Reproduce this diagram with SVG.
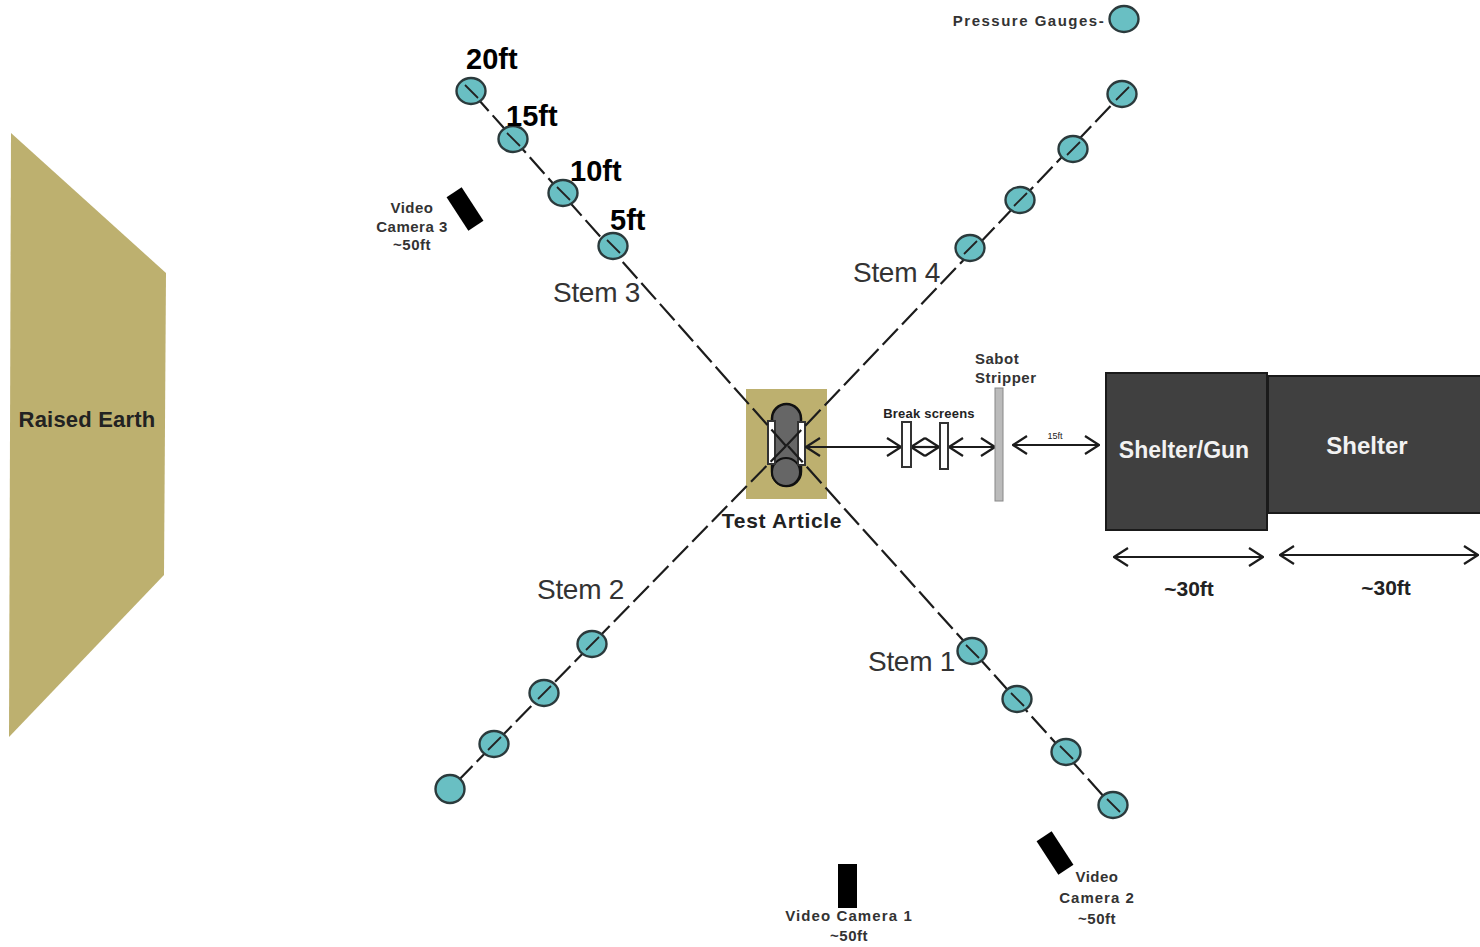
<svg xmlns="http://www.w3.org/2000/svg" width="1480" height="947" viewBox="0 0 1480 947">
<style>
text{font-family:"Liberation Sans",Arial,sans-serif;fill:#222}
.s{font-size:28px;fill:#333;letter-spacing:-.3px}
.d{font-size:29px;font-weight:bold;fill:#000}
.l{font-size:15px;font-weight:bold;fill:#333;text-anchor:middle;letter-spacing:.5px}
.g{fill:#69bfc3;stroke:#2b3a3c;stroke-width:2.4}
.k{stroke:#222;stroke-width:1.8}
.c{fill:none;stroke:#1c1c1c;stroke-width:2.2;stroke-dasharray:22 6}
.a{fill:none;stroke:#1c1c1c;stroke-width:2.2;marker-start:url(#h);marker-end:url(#h)}
.t{fill:#bdb06f}
.w{font-weight:bold;fill:#f2f2f2;text-anchor:middle;font-size:23px}
.sh{fill:#404040;stroke:#1a1a1a;stroke-width:2}
.sc{fill:#fff;stroke:#333;stroke-width:2}
</style>
<defs><marker id="h" viewBox="0 0 16 20" refX="15" refY="10" markerWidth="16" markerHeight="20" orient="auto-start-reverse" markerUnits="userSpaceOnUse"><path d="M1 1L15 10L1 19" fill="none" stroke="#1c1c1c" stroke-width="2.2"/></marker></defs>
<g id="raised-earth"><path class="t" d="M11 133L166 273L164 575L9 737Z"/><text x="87" y="427" text-anchor="middle" font-size="22" font-weight="bold" letter-spacing=".2">Raised Earth</text></g>
<g id="test-article"><rect class="t" x="746" y="389" width="81" height="110"/>
<rect x="772" y="404" width="29" height="82" rx="14.5" fill="#666" stroke="#111" stroke-width="2.5"/><circle cx="786" cy="472" r="14" fill="#666" stroke="#111" stroke-width="2"/>
<rect class="sc" x="768" y="421" width="7" height="43"/><rect class="sc" x="798" y="422" width="7" height="43"/>
<text x="782" y="528" text-anchor="middle" font-size="21" font-weight="bold" letter-spacing=".7">Test Article</text></g>
<g id="connectors">
<path class="c" d="M788 446L1125 820"/><path class="c" d="M786 446L450 789"/><path class="c" d="M786 446L471 91"/><path class="c" d="M786 446L1122 94"/>
<path class="a" d="M806 447L901 447"/><path class="a" d="M911 447L939 447"/><path class="a" d="M949 447L995 447"/><path class="a" d="M1013 445L1099 445"/>
<path class="a" d="M1114 557L1263 557"/><path class="a" d="M1280 555L1478 555"/>
</g>
<g id="stem-3-gauges"><ellipse class="g" cx="471" cy="91" rx="14.5" ry="13"/><path class="k" d="M465 85L478 98"/><ellipse class="g" cx="513" cy="139" rx="14.5" ry="13"/><path class="k" d="M507 133L520 146"/><ellipse class="g" cx="563" cy="193" rx="14.5" ry="13"/><path class="k" d="M557 187L570 200"/><ellipse class="g" cx="613" cy="246" rx="14.5" ry="13"/><path class="k" d="M607 240L620 253"/></g>
<g id="stem-4-gauges"><ellipse class="g" cx="970" cy="248" rx="14.5" ry="13"/><path class="k" d="M964 254L977 241"/><ellipse class="g" cx="1020" cy="200" rx="14.5" ry="13"/><path class="k" d="M1014 206L1027 193"/><ellipse class="g" cx="1073" cy="149" rx="14.5" ry="13"/><path class="k" d="M1067 155L1080 142"/><ellipse class="g" cx="1122" cy="94" rx="14.5" ry="13"/><path class="k" d="M1116 100L1129 87"/></g>
<g id="stem-2-gauges"><ellipse class="g" cx="592" cy="644" rx="14.5" ry="13"/><path class="k" d="M586 650L599 637"/><ellipse class="g" cx="544" cy="693" rx="14.5" ry="13"/><path class="k" d="M538 699L551 686"/><ellipse class="g" cx="494" cy="744" rx="14.5" ry="13"/><path class="k" d="M488 750L501 737"/><ellipse class="g" cx="450" cy="789" rx="14.5" ry="14"/></g>
<g id="stem-1-gauges"><ellipse class="g" cx="972" cy="651" rx="14.5" ry="13"/><path class="k" d="M966 645L979 658"/><ellipse class="g" cx="1017" cy="699" rx="14.5" ry="13"/><path class="k" d="M1011 693L1024 706"/><ellipse class="g" cx="1066" cy="752" rx="14.5" ry="13"/><path class="k" d="M1060 746L1073 759"/><ellipse class="g" cx="1113" cy="805" rx="14.5" ry="13"/><path class="k" d="M1107 799L1120 812"/></g>
<g id="legend-gauge"><text class="l" x="1029" y="26" style="letter-spacing:1.5px">Pressure Gauges-</text><ellipse class="g" cx="1124" cy="19" rx="14.5" ry="13"/></g>
<g id="distances"><text class="d" x="466" y="69">20ft</text><text class="d" x="506" y="126">15ft</text><text class="d" x="570" y="181">10ft</text><text class="d" x="610" y="230">5ft</text></g>
<g id="stems"><text class="s" x="553" y="302">Stem 3</text><text class="s" x="853" y="282">Stem 4</text><text class="s" x="537" y="599">Stem 2</text><text class="s" x="868" y="671">Stem 1</text></g>
<g id="camera-3"><rect x="-9" y="-20" width="18" height="40" transform="translate(465 209) rotate(-33)"/><text class="l" x="412" y="213">Video</text><text class="l" x="412" y="232">Camera 3</text><text class="l" x="412" y="250">~50ft</text></g>
<g id="camera-1"><rect x="838" y="864" width="19" height="44"/><text class="l" x="849" y="921" style="letter-spacing:1.1px">Video Camera 1</text><text class="l" x="849" y="941">~50ft</text></g>
<g id="camera-2"><rect x="-9" y="-20" width="18" height="40" transform="translate(1055 853) rotate(-33)"/><text class="l" x="1097" y="882">Video</text><text class="l" x="1097" y="903" style="letter-spacing:1px">Camera 2</text><text class="l" x="1097" y="924">~50ft</text></g>
<g id="break-screens"><rect class="sc" x="902" y="422" width="9" height="45"/><rect class="sc" x="940" y="423" width="8" height="46"/><text x="929" y="418" text-anchor="middle" font-size="13" font-weight="bold" fill="#555" letter-spacing=".2">Break screens</text></g>
<g id="sabot-stripper"><rect x="995" y="388" width="8" height="113" fill="#bbb" stroke="#888"/><text class="l" x="975" y="364" style="text-anchor:start">Sabot</text><text class="l" x="975" y="383" style="text-anchor:start">Stripper</text></g>
<text x="1055" y="439" text-anchor="middle" font-size="9" fill="#333">15ft</text>
<g id="shelter-gun"><rect class="sh" x="1106" y="373" width="161" height="157"/><text class="w" x="1184" y="458">Shelter/Gun</text><text x="1189" y="596" text-anchor="middle" font-size="21" font-weight="bold">~30ft</text></g>
<g id="shelter"><rect class="sh" x="1268" y="376" width="214" height="137"/><text class="w" x="1367" y="454" style="font-size:24px">Shelter</text><text x="1386" y="595" text-anchor="middle" font-size="21" font-weight="bold">~30ft</text></g>
</svg>
